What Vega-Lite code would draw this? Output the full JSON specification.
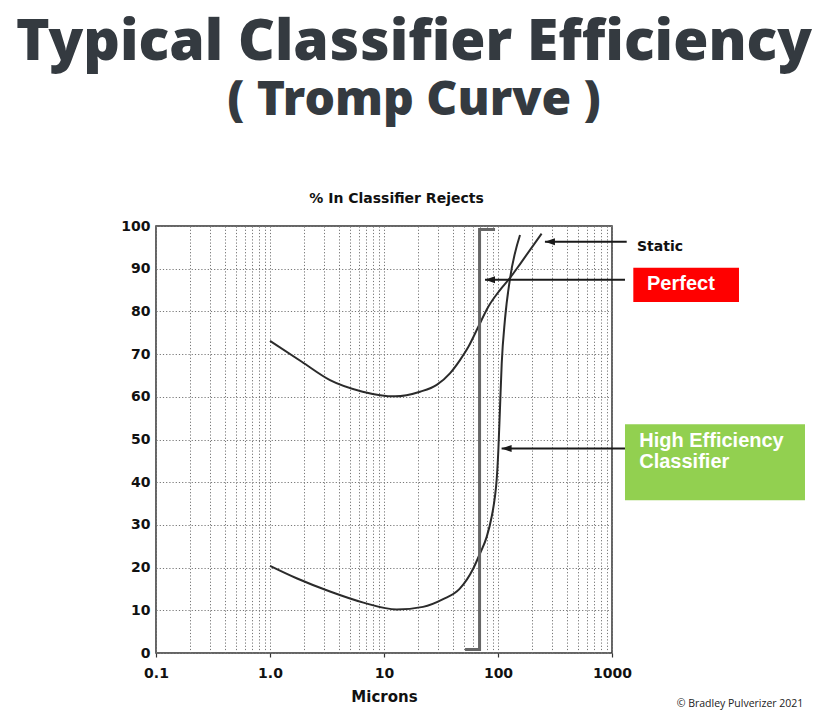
{
  "$schema": "https://vega.github.io/schema/vega-lite/v6.json",
  "width": 456,
  "height": 427,
  "autosize": {"type": "none"},
  "padding": {"left": 156, "top": 226, "right": 224, "bottom": 68},
  "background": "white",
  "config": {
    "view": {"stroke": "#333", "strokeWidth": 1.5},
    "font": "DejaVu Sans"
  },
  "title": {
    "text": "Typical Classifier Efficiency",
    "subtitle": "( Tromp Curve )",
    "anchor": "middle",
    "frame": "group",
    "dx": 30,
    "offset": 65,
    "font": "Open Sans ExtraBold, Open Sans",
    "fontSize": 57,
    "fontWeight": 800,
    "color": "#343a40",
    "subtitleFont": "Open Sans ExtraBold, Open Sans",
    "subtitleFontSize": 48,
    "subtitleFontWeight": 800,
    "subtitleColor": "#343a40",
    "subtitlePadding": 5
  },
  "datasets": {
    "curves": [
      {"series": "Static", "x": 1.0, "y": 73.1},
      {"series": "Static", "x": 1.9, "y": 68.2},
      {"series": "Static", "x": 3.36, "y": 63.9},
      {"series": "Static", "x": 6.5, "y": 61.2},
      {"series": "Static", "x": 12.5, "y": 60.1},
      {"series": "Static", "x": 20.7, "y": 61.2},
      {"series": "Static", "x": 29, "y": 62.8},
      {"series": "Static", "x": 37.9, "y": 65.5},
      {"series": "Static", "x": 46.4, "y": 68.6},
      {"series": "Static", "x": 55, "y": 71.7},
      {"series": "Static", "x": 67.2, "y": 76.4},
      {"series": "Static", "x": 82.2, "y": 81.1},
      {"series": "Static", "x": 104, "y": 85},
      {"series": "Static", "x": 127, "y": 87.8},
      {"series": "Static", "x": 160, "y": 91.5},
      {"series": "Static", "x": 241, "y": 98.2},
      {"series": "High Efficiency", "x": 1.0, "y": 20.4},
      {"series": "High Efficiency", "x": 1.71, "y": 17.5},
      {"series": "High Efficiency", "x": 3.36, "y": 14.4},
      {"series": "High Efficiency", "x": 6.6, "y": 11.8},
      {"series": "High Efficiency", "x": 12.9, "y": 10.2},
      {"series": "High Efficiency", "x": 22, "y": 10.8},
      {"series": "High Efficiency", "x": 33, "y": 12.6},
      {"series": "High Efficiency", "x": 46, "y": 15},
      {"series": "High Efficiency", "x": 60.7, "y": 19.8},
      {"series": "High Efficiency", "x": 69.5, "y": 23.3},
      {"series": "High Efficiency", "x": 79.6, "y": 27.2},
      {"series": "High Efficiency", "x": 88, "y": 31.9},
      {"series": "High Efficiency", "x": 94, "y": 36.6},
      {"series": "High Efficiency", "x": 97.3, "y": 40.5},
      {"series": "High Efficiency", "x": 100.7, "y": 47.5},
      {"series": "High Efficiency", "x": 104, "y": 57},
      {"series": "High Efficiency", "x": 107.8, "y": 67.8},
      {"series": "High Efficiency", "x": 115, "y": 78},
      {"series": "High Efficiency", "x": 127, "y": 87.4},
      {"series": "High Efficiency", "x": 156, "y": 97.9}
    ],
    "perfect": [
      {"o": 1, "x": 51.4, "y": 0.8},
      {"o": 2, "x": 68.9, "y": 0.8},
      {"o": 3, "x": 68.9, "y": 99.2},
      {"o": 4, "x": 94.2, "y": 99.2}
    ],
    "boxes": [
      {"box": "Perfect", "x": 1538, "x2": 13000, "y": 90.2, "y2": 82.2},
      {"box": "High Efficiency Classifier", "x": 1300, "x2": 49300, "y": 53.6, "y2": 35.8}
    ],
    "arrows": [
      {"name": "Static", "x": 258, "x2": 1346, "y": 96.3},
      {"name": "Perfect", "x": 76.9, "x2": 1300, "y": 87.4},
      {"name": "High Efficiency", "x": 107.6, "x2": 1300, "y": 47.9}
    ],
    "labels": [
      {"kind": "dark", "label": "Static", "x": 1656, "y": 95.0},
      {"kind": "light", "label": "Perfect", "x": 2028, "y": 85.0},
      {"kind": "light", "label": "High Efficiency", "x": 1734, "y": 48.3},
      {"kind": "light", "label": "Classifier", "x": 1734, "y": 43.3}
    ],
    "credit": [
      {"label": "© Bradley Pulverizer 2021", "x": 13270, "y": -11.9}
    ]
  },
  "encoding": {
    "x": {
      "field": "x",
      "type": "quantitative",
      "scale": {"type": "log", "domain": [0.1, 1000], "nice": false},
      "axis": {
        "values": [0.1, 0.2, 0.3, 0.4, 0.5, 0.6, 0.7, 0.8, 0.9, 1, 2, 3, 4, 5, 6, 7, 8, 9, 10, 20, 30, 40, 50, 60, 70, 80, 90, 100, 200, 300, 400, 500, 600, 700, 800, 900, 1000],
        "labelExpr": "abs(datum.value-0.1)<1e-6 ? '0.1' : abs(datum.value-1)<1e-6 ? '1.0' : abs(datum.value-10)<1e-6 ? '10' : abs(datum.value-100)<1e-6 ? '100' : abs(datum.value-1000)<1e-6 ? '1000' : ''",
        "labelOverlap": false,
        "labelFlush": false,
        "labelFont": "DejaVu Sans",
        "labelFontSize": 14,
        "labelFontWeight": "bold",
        "labelColor": "#111",
        "labelPadding": 9,
        "domain": false,
        "tickColor": "#333",
        "tickWidth": 1.2,
        "tickSize": 4,
        "tickOpacity": {"condition": {"test": "abs(log(datum.value)/LN10 - round(log(datum.value)/LN10)) < 0.001", "value": 1}, "value": 0},
        "grid": true,
        "gridColor": "#777",
        "gridDash": [1.2, 2],
        "gridWidth": 1,
        "title": "Microns",
        "titleFont": "DejaVu Sans",
        "titleFontSize": 15,
        "titleFontWeight": "bold",
        "titleColor": "#111",
        "titlePadding": 9
      }
    },
    "y": {
      "field": "y",
      "type": "quantitative",
      "scale": {"domain": [0, 100], "nice": false},
      "axis": {
        "values": [0, 10, 20, 30, 40, 50, 60, 70, 80, 90, 100],
        "labelFont": "DejaVu Sans",
        "labelFontSize": 14,
        "labelFontWeight": "bold",
        "labelColor": "#111",
        "labelPadding": 6,
        "labelFlush": false,
        "ticks": false,
        "domain": false,
        "grid": true,
        "gridColor": "#777",
        "gridDash": [1.2, 2],
        "gridWidth": 1,
        "title": "% In Classifier Rejects",
        "titleAngle": 0,
        "titleX": 240,
        "titleY": -24,
        "titleAlign": "center",
        "titleBaseline": "alphabetic",
        "titleFont": "DejaVu Sans",
        "titleFontSize": 14,
        "titleFontWeight": "bold",
        "titleColor": "#111"
      }
    }
  },
  "layer": [
    {
      "data": {"name": "curves"},
      "mark": {"type": "line", "interpolate": "monotone", "color": "#2b2b2b", "strokeWidth": 2},
      "encoding": {"detail": {"field": "series"}}
    },
    {
      "data": {"name": "perfect"},
      "mark": {"type": "line", "color": "#666666", "strokeWidth": 3},
      "encoding": {"order": {"field": "o", "type": "quantitative"}}
    },
    {
      "data": {"name": "boxes"},
      "mark": {"type": "rect"},
      "encoding": {
        "x2": {"field": "x2"},
        "y2": {"field": "y2"},
        "color": {"field": "box", "type": "nominal", "scale": {"domain": ["Perfect", "High Efficiency Classifier"], "range": ["#ff0000", "#92d050"]}, "legend": null}
      }
    },
    {
      "data": {"name": "arrows"},
      "mark": {"type": "rule", "color": "#1a1a1a", "strokeWidth": 2},
      "encoding": {"x2": {"field": "x2"}}
    },
    {
      "data": {"name": "arrows"},
      "mark": {"type": "point", "shape": "M0,0L2,-0.7L2,0.7Z", "filled": true, "color": "#1a1a1a", "size": 100, "opacity": 1}
    },
    {
      "data": {"name": "labels"},
      "transform": [{"filter": "datum.kind == 'dark'"}],
      "mark": {"type": "text", "align": "left", "baseline": "middle", "font": "DejaVu Sans", "fontSize": 14, "fontWeight": "bold", "color": "#111"},
      "encoding": {"text": {"field": "label"}}
    },
    {
      "data": {"name": "labels"},
      "transform": [{"filter": "datum.kind == 'light'"}],
      "mark": {"type": "text", "align": "left", "baseline": "alphabetic", "font": "Liberation Sans", "fontSize": 20, "fontWeight": "bold", "color": "#ffffff"},
      "encoding": {"text": {"field": "label"}}
    },
    {
      "data": {"name": "credit"},
      "mark": {"type": "text", "align": "center", "baseline": "middle", "font": "Open Sans", "fontSize": 10.5, "color": "#222"},
      "encoding": {"text": {"field": "label"}}
    }
  ]
}
